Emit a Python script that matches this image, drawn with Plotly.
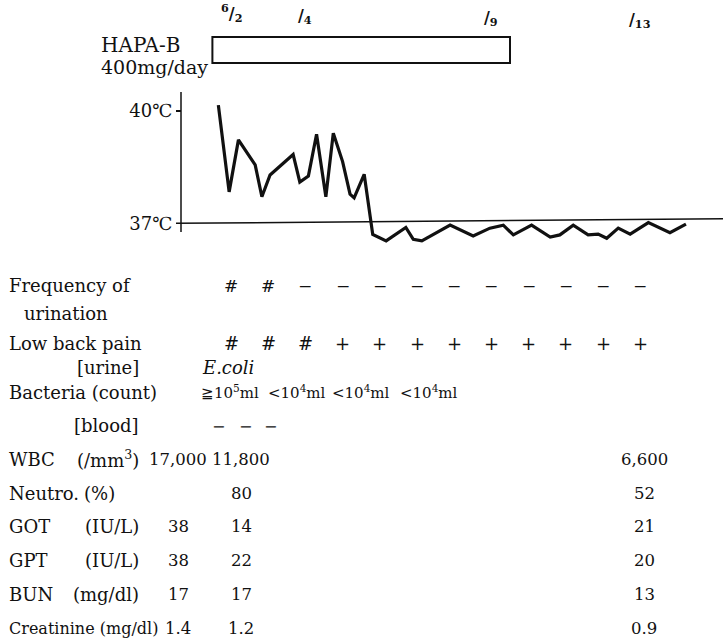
import plotly.graph_objects as go

# ---------------- data ----------------
# body temperature readings: day of June (fractional) and degrees C
temp_day = [1.66, 1.95, 2.20, 2.65, 2.83, 3.05, 3.67, 3.85, 4.08, 4.30, 4.55, 4.75,
            5.00, 5.20, 5.31, 5.58, 5.81, 6.17, 6.70, 6.90, 7.13, 7.89, 8.51, 8.96,
            9.32, 9.59, 10.08, 10.58, 10.84, 11.20, 11.60, 11.87, 12.10, 12.41,
            12.73, 13.22, 13.80, 14.23]
temp_c = [40.16, 37.84, 39.23, 38.56, 37.71, 38.29, 38.84, 38.10, 38.26, 39.38, 37.71,
          39.41, 38.65, 37.78, 37.68, 38.31, 36.70, 36.53, 36.89, 36.57, 36.53, 36.95,
          36.66, 36.87, 36.95, 36.69, 36.95, 36.63, 36.69, 36.95, 36.69, 36.71, 36.60,
          36.87, 36.71, 37.02, 36.75, 36.98]
temp_ticks = [37, 40]
temp_tick_labels = ["37℃", "40℃"]

# HAPA-B administration (day of June)
hapa_start_day = 1.5
hapa_end_day = 9.5
drug_label = ["HAPA-B", "400mg/day"]

# date marks
date_days = [2, 4, 9, 13]
date_labels = ["<sup>6</sup>/<sub>2</sub>", "/<sub>4</sub>", "/<sub>9</sub>", "/<sub>13</sub>"]

# daily symptom scores from 6/2 to 6/13
symptom_days = [2, 3, 4, 5, 6, 7, 8, 9, 10, 11, 12, 13]
freq_urination = ["#", "#", "−", "−", "−", "−", "−", "−", "−", "−", "−", "−"]
low_back_pain = ["#", "#", "#", "+", "+", "+", "+", "+", "+", "+", "+", "+"]

# urine / blood culture
bacteria_counts = ["≧10<sup>5</sup>ml", "&lt;10<sup>4</sup>ml", "&lt;10<sup>4</sup>ml", "&lt;10<sup>4</sup>ml"]
organism = "E.coli"
blood_culture = ["−", "−", "−"]

# laboratory data
lab_names = ["WBC", "Neutro.", "GOT", "GPT", "BUN", "Creatinine"]
lab_units = ["(/mm<sup>3</sup>)", "(%)", "(IU/L)", "(IU/L)", "(mg/dl)", "(mg/dl)"]
lab_first = ["17,000", "", "38", "38", "17", "1.4"]
lab_second = ["11,800", "80", "14", "22", "17", "1.2"]
lab_last = ["6,600", "52", "21", "20", "13", "0.9"]

# ---------------- layout helpers ----------------
W, H = 723, 642
PX_DAY2 = 231.0     # pixel position of 6/2
PX_PER_DAY = 37.2
x_range = [2 - PX_DAY2 / PX_PER_DAY, 2 + (W - PX_DAY2) / PX_PER_DAY]

def px2day(p):
    return 2 + (p - PX_DAY2) / PX_PER_DAY

def px(x):
    return x / W

def py(y):
    return 1 - y / H

# temperature axis geometry
Y_TOP_PX, Y_BOT_PX = 92, 250
PX_37, PX_PER_DEG = 223.3, 37.4
y_range = [37 - (Y_BOT_PX - PX_37) / PX_PER_DEG, 37 + (PX_37 - Y_TOP_PX) / PX_PER_DEG]
AXIS_PX = 181

FONT = "DejaVu Serif"
BLACK = "#111111"
FS = 18
FV = 16.5

fig = go.Figure()
fig.add_trace(go.Scatter(x=temp_day, y=temp_c, mode="lines",
                         line=dict(color=BLACK, width=3.2), hoverinfo="skip",
                         showlegend=False))

shapes = []
# temperature axis line
shapes.append(dict(type="line", xref="x", yref="y", x0=px2day(AXIS_PX), x1=px2day(AXIS_PX),
                   y0=37 - (232 - PX_37) / PX_PER_DEG, y1=y_range[1],
                   line=dict(color=BLACK, width=1.5)))
# 37 C baseline
shapes.append(dict(type="line", xref="x", yref="y", x0=px2day(176), x1=x_range[1],
                   y0=37, y1=37.12, line=dict(color=BLACK, width=1.5)))
# drug bar
shapes.append(dict(type="rect", xref="x", yref="paper", x0=hapa_start_day, x1=hapa_end_day,
                   y0=py(63), y1=py(37), line=dict(color=BLACK, width=2), fillcolor="white"))

ann = []
def text(x, y, s, xanchor="left", size=FS, xref="paper", italic=False, bold=False):
    if italic:
        s = "<i>" + s + "</i>"
    if bold:
        s = "<b>" + s + "</b>"
    ann.append(dict(x=x, y=y, xref=xref, yref="paper", text=s, showarrow=False,
                    xanchor=xanchor, yanchor="middle",
                    font=dict(family=FONT, size=size, color=BLACK)))

# drug label
text(px(99), py(45), drug_label[0], size=20)
text(px(99), py(67), drug_label[1], size=19)
# date labels
date_y = [13, 16, 18, 20]
for d, lab, yy in zip(date_days, date_labels, date_y):
    text(d, py(yy), lab, xanchor="center", size=16, xref="x", bold=True)

# symptom rows
text(px(7), py(285), "Frequency of")
text(px(22), py(314), "urination")
text(px(7), py(343), "Low back pain")
for d, s in zip(symptom_days, freq_urination):
    text(d, py(286), s, xanchor="center", xref="x", size=17)
for d, s in zip(symptom_days, low_back_pain):
    text(d, py(343), s, xanchor="center", xref="x")

# cultures
text(px(141), py(367), "[urine]", xanchor="right")
text(px(200), py(367), organism, italic=True)
text(px(7), py(392), "Bacteria (count)")
bact_x = [230, 297, 361, 429]
for xx, s in zip(bact_x, bacteria_counts):
    text(px(xx), py(392), s, xanchor="center", size=15)
text(px(141), py(425), "[blood]", xanchor="right")
blood_x = [219, 245, 270]
for xx, s in zip(blood_x, blood_culture):
    text(px(xx), py(426), s, xanchor="center", size=16)

# laboratory table
row_y = [459, 493, 526, 560, 594, 628]
col_x = [178, 241, 644]
for i, name in enumerate(lab_names):
    yy = py(row_y[i])
    if name == "Creatinine":
        text(px(7), yy, name + " " + lab_units[i], size=16)
    else:
        text(px(7), yy, name)
        if lab_units[i] == "(%)":
            text(px(82), yy, lab_units[i])
        else:
            text(px(141), yy, lab_units[i], xanchor="right")
    for cx, col in zip(col_x, (lab_first, lab_second, lab_last)):
        if col[i]:
            text(px(cx), yy, col[i], xanchor="center", size=FV)

fig.update_layout(
    width=W, height=H,
    margin=dict(l=0, r=0, t=0, b=0),
    paper_bgcolor="white", plot_bgcolor="rgba(0,0,0,0)",
    xaxis=dict(range=x_range, visible=False, domain=[0, 1], fixedrange=True),
    yaxis=dict(range=y_range, domain=[py(Y_BOT_PX), py(Y_TOP_PX)], anchor="free",
               position=px(AXIS_PX), showgrid=False, zeroline=False, showline=False,
               tickvals=temp_ticks, ticktext=temp_tick_labels, ticks="outside",
               ticklen=5, tickwidth=1.5, tickcolor=BLACK, fixedrange=True,
               tickfont=dict(family=FONT, size=FS, color=BLACK)),
    shapes=shapes, annotations=ann, showlegend=False,
)

fig.write_html("out.html", config={"displayModeBar": False, "staticPlot": True},
               post_script="document.body.style.margin='0';document.body.style.overflow='hidden';")
